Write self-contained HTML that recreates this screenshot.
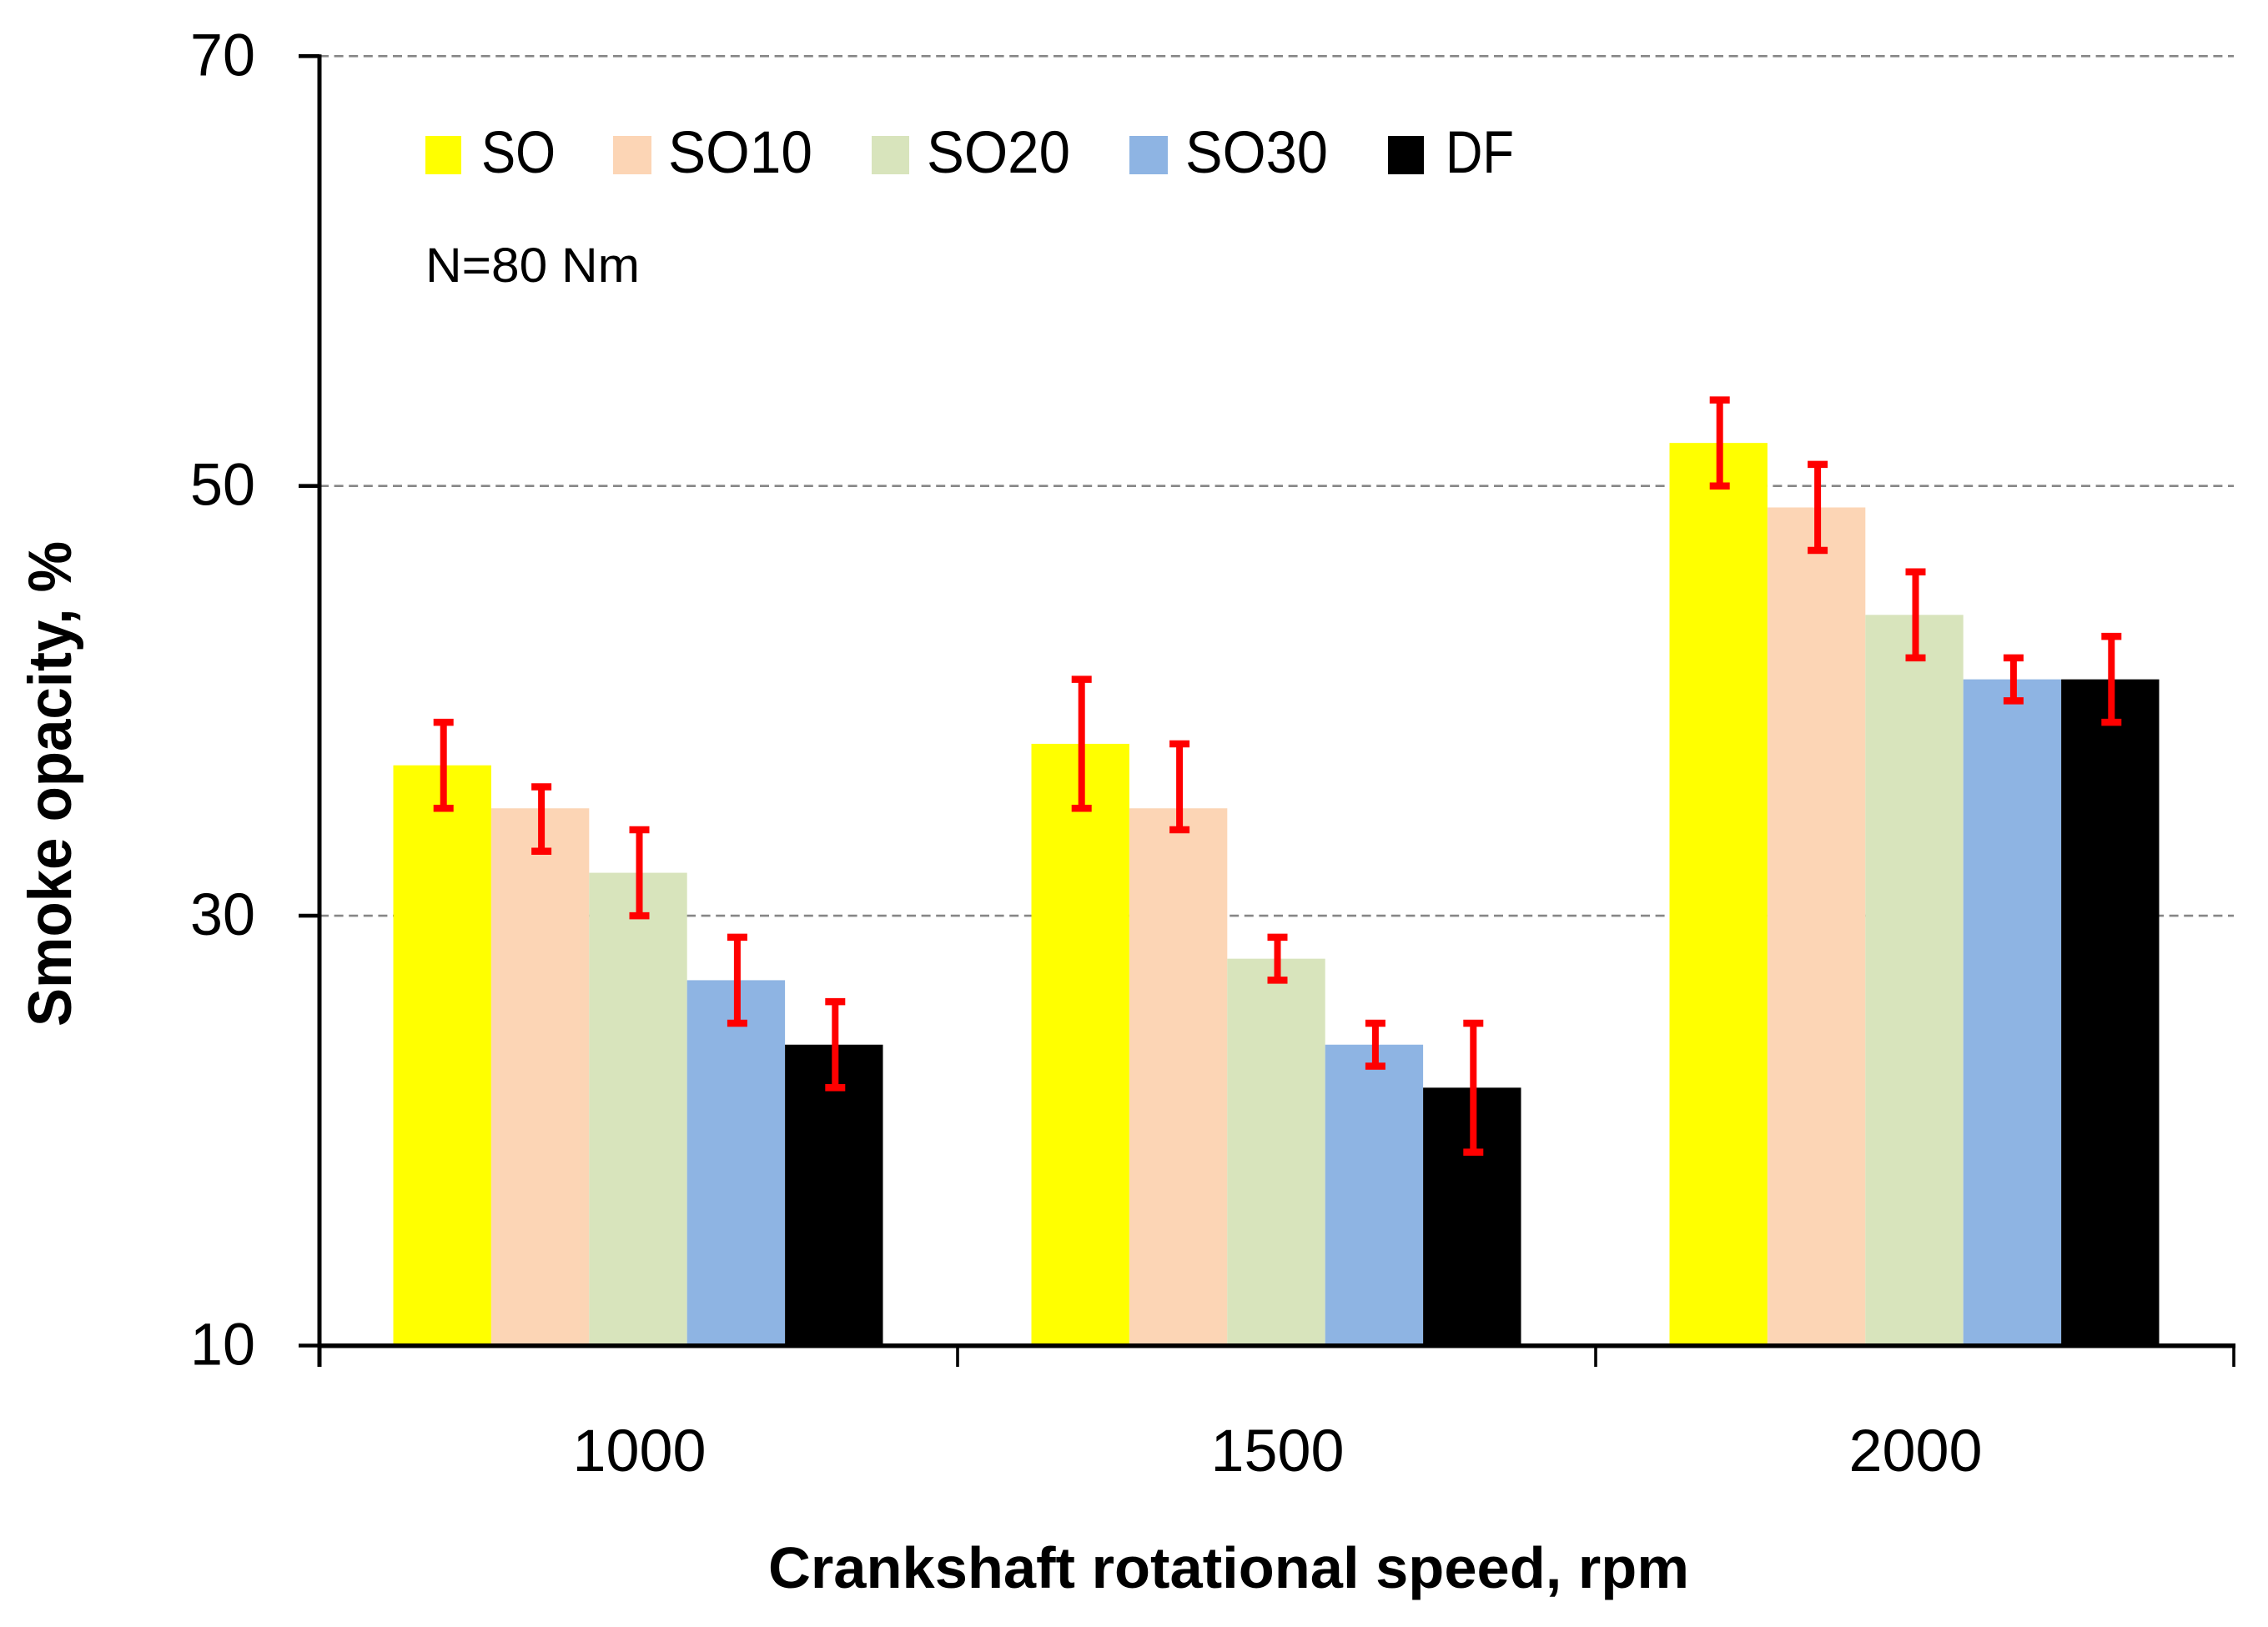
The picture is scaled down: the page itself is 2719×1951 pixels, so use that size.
<!DOCTYPE html>
<html lang="en">
<head>
<meta charset="utf-8">
<title>Smoke opacity chart</title>
<style>
html,body{margin:0;padding:0;background:#fff;width:2719px;height:1951px;overflow:hidden}
svg{display:block}
text{font-family:"Liberation Sans",Arial,sans-serif;fill:#000}
</style>
</head>
<body>
<svg id="chart" xmlns="http://www.w3.org/2000/svg" width="2719" height="1951" viewBox="0 0 2719 1951">
  <rect x="0" y="0" width="2719" height="1951" fill="#fff"/>
  <g id="grid"></g>
  <g id="bars"></g>
  <g id="errors"></g>
  <g id="axes"></g>
  <g id="ticklabels"></g>

  <g>
    <g>
      <rect x="510" y="163" width="43" height="46" fill="#FFFF00"/>
      <text x="577" y="207" font-size="71" textLength="89" lengthAdjust="spacingAndGlyphs">SO</text>
    </g>
    <g>
      <rect x="735" y="163" width="46" height="46" fill="#FCD5B5"/>
      <text x="801" y="207" font-size="71" textLength="173" lengthAdjust="spacingAndGlyphs">SO10</text>
    </g>
    <g>
      <rect x="1045" y="163" width="45" height="46" fill="#D8E4BC"/>
      <text x="1111" y="207" font-size="71" textLength="172" lengthAdjust="spacingAndGlyphs">SO20</text>
    </g>
    <g>
      <rect x="1354" y="163" width="46" height="46" fill="#8EB4E3"/>
      <text x="1421" y="207" font-size="71" textLength="171" lengthAdjust="spacingAndGlyphs">SO30</text>
    </g>
    <g>
      <rect x="1664" y="163" width="43" height="46" fill="#000000"/>
      <text x="1733" y="207" font-size="71" textLength="82" lengthAdjust="spacingAndGlyphs">DF</text>
    </g>
  </g>

  <text x="510" y="338" font-size="58" textLength="257" lengthAdjust="spacingAndGlyphs">N=80 Nm</text>
  <text transform="translate(85,1231) rotate(-90)" font-size="73" font-weight="700" textLength="582" lengthAdjust="spacingAndGlyphs">Smoke opacity, %</text>
  <text x="921" y="1904" font-size="70" font-weight="700" textLength="1104" lengthAdjust="spacingAndGlyphs">Crankshaft rotational speed, rpm</text>
</svg>

<script>
// Chart data
const categories = ['1000', '1500', '2000'];
const yTickValues = [10, 30, 50, 70];
const yTickLabels = ['10', '30', '50', '70'];
const gridValues = [30, 50, 70];

const seriesNames = ['SO', 'SO10', 'SO20', 'SO30', 'DF'];
const seriesColors = ['#FFFF00', '#FCD5B5', '#D8E4BC', '#8EB4E3', '#000000'];

const soValues = [37, 38, 52];
const so10Values = [35, 35, 49];
const so20Values = [32, 28, 44];
const so30Values = [27, 24, 41];
const dfValues = [24, 22, 41];

const soHigh = [39, 41, 54];
const so10High = [36, 38, 51];
const so20High = [34, 29, 46];
const so30High = [29, 25, 42];
const dfHigh = [26, 25, 43];

const soLow = [35, 35, 50];
const so10Low = [33, 34, 47];
const so20Low = [30, 27, 42];
const so30Low = [25, 23, 40];
const dfLow = [22, 19, 39];

const seriesValues = [soValues, so10Values, so20Values, so30Values, dfValues];
const seriesHigh = [soHigh, so10High, so20High, so30High, dfHigh];
const seriesLow = [soLow, so10Low, so20Low, so30Low, dfLow];

// Axis functions
const PLOT_LEFT = 383;
const PLOT_RIGHT = 2678;
const Y_BASE = 1613.5;
const Y_UNIT = 25.77;
const Y_MIN = 10;
const BAR_WIDTH = 117.4;

function yScale(v) {
  return Y_BASE - (v - Y_MIN) * Y_UNIT;
}
function bandWidth() {
  return (PLOT_RIGHT - PLOT_LEFT) / categories.length;
}
function bandLeft(c) {
  return PLOT_LEFT + c * bandWidth();
}
function barLeft(c, s) {
  return bandLeft(c) + (bandWidth() - seriesNames.length * BAR_WIDTH) / 2 + s * BAR_WIDTH - 0.5;
}

const NS = 'http://www.w3.org/2000/svg';
function make(parent, tag, attrs) {
  const node = document.createElementNS(NS, tag);
  for (const k in attrs) node.setAttribute(k, attrs[k]);
  parent.appendChild(node);
  return node;
}

const gridG = document.getElementById('grid');
const barsG = document.getElementById('bars');
const errorsG = document.getElementById('errors');
const axesG = document.getElementById('axes');
const labelsG = document.getElementById('ticklabels');

// Gridlines
gridValues.forEach(function (v) {
  const el = make(gridG, 'line', {x1: PLOT_LEFT, x2: PLOT_RIGHT, y1: yScale(v), y2: yScale(v), stroke: '#868686', 'stroke-width': 2.6, 'stroke-dasharray': '11 6.6'});
  
  
});

// Bars
categories.forEach(function (cat, c) {
  seriesNames.forEach(function (name, s) {
    const top = yScale(seriesValues[s][c]);
    const el = make(barsG, 'rect', {x: barLeft(c, s), y: top, width: BAR_WIDTH, height: Y_BASE - top, fill: seriesColors[s]});
    
    
  });
});

// Error bars
categories.forEach(function (cat, c) {
  seriesNames.forEach(function (name, s) {
    const cx = barLeft(c, s) + BAR_WIDTH / 2 + 1.5;
    const hi = yScale(seriesHigh[s][c]);
    const lo = yScale(seriesLow[s][c]);
    const group = make(errorsG, 'g', {stroke: '#FF0000', fill: 'none'});
    
    
    make(group, 'line', {x1: cx, x2: cx, y1: hi, y2: lo, 'stroke-width': 8});
    make(group, 'line', {x1: cx - 12, x2: cx + 12, y1: hi, y2: hi, 'stroke-width': 8.5});
    make(group, 'line', {x1: cx - 12, x2: cx + 12, y1: lo, y2: lo, 'stroke-width': 8.5});
  });
});

// Axes
const yAxisLine = make(axesG, 'line', {x1: PLOT_LEFT, x2: PLOT_LEFT, y1: yScale(70) - 2, y2: 1639, stroke: '#000', 'stroke-width': 5});



const xAxisLine = make(axesG, 'line', {x1: PLOT_LEFT, x2: PLOT_RIGHT + 2, y1: Y_BASE + 0.3, y2: Y_BASE + 0.3, stroke: '#000', 'stroke-width': 5.5});



yTickValues.forEach(function (v, i) {
  const tick = make(axesG, 'line', {x1: 358, x2: PLOT_LEFT, y1: yScale(v), y2: yScale(v), stroke: '#000', 'stroke-width': 4.6});
  
  

  const label = make(labelsG, 'text', {x: 228, y: yScale(v) + 23, 'font-size': 71, textLength: 78, lengthAdjust: 'spacingAndGlyphs'});
  label.textContent = yTickLabels[i];
  
  
});

for (let c = 1; c <= categories.length; c++) {
  const tx = bandLeft(c);
  const tick = make(axesG, 'line', {x1: tx, x2: tx, y1: Y_BASE, y2: 1639, stroke: '#000', 'stroke-width': 3.6});
  
  
}

categories.forEach(function (cat, c) {
  const center = bandLeft(c) + bandWidth() / 2 + 1;
  const label = make(labelsG, 'text', {x: center - 80, y: 1764, 'font-size': 71, textLength: 160, lengthAdjust: 'spacingAndGlyphs'});
  label.textContent = cat;
  
  
});
</script>
</body>
</html>
